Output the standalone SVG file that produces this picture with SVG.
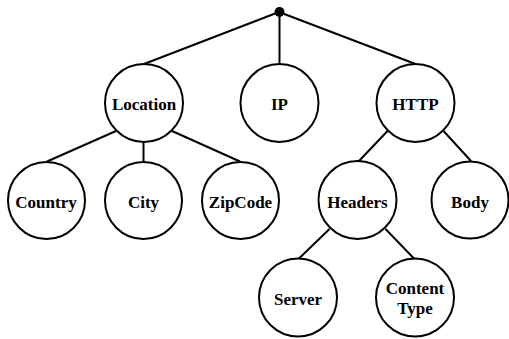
<svg xmlns="http://www.w3.org/2000/svg" width="509" height="339" viewBox="0 0 509 339">
<style>
.n circle{fill:#fff;stroke:#000;stroke-width:2}
.n text{font-family:"Liberation Serif","Times New Roman",serif;font-weight:bold;font-size:17px;text-anchor:middle;fill:#000}
.e line{stroke:#000;stroke-width:2}
</style>
<rect width="509" height="339" fill="#fff"/>
<g id="connectors" class="e">
<line x1="279" y1="12" x2="144" y2="64"/>
<line x1="279.5" y1="12" x2="279.5" y2="64"/>
<line x1="279" y1="12" x2="415.5" y2="64"/>
<line x1="116" y1="131" x2="47" y2="161.5"/>
<line x1="143.5" y1="142" x2="143.5" y2="161.5"/>
<line x1="172" y1="131" x2="240" y2="161.5"/>
<line x1="387.5" y1="131" x2="359" y2="161"/>
<line x1="443.5" y1="131" x2="471" y2="161"/>
<line x1="329.5" y1="229" x2="299" y2="258.5"/>
<line x1="385.5" y1="229" x2="414" y2="258.5"/>
</g>
<g id="root"><circle cx="279.5" cy="12" r="5" fill="#000"/></g>
<g id="location" class="n"><circle cx="144" cy="103" r="39"/><text x="144" y="110">Location</text></g>
<g id="ip" class="n"><circle cx="279.5" cy="103" r="39"/><text x="279.5" y="110">IP</text></g>
<g id="http" class="n"><circle cx="415.5" cy="103" r="39"/><text x="415.5" y="110">HTTP</text></g>
<g id="country" class="n"><circle cx="46.5" cy="200.5" r="38.5"/><text x="46" y="208">Country</text></g>
<g id="city" class="n"><circle cx="143.5" cy="200.5" r="38.5"/><text x="143.5" y="208">City</text></g>
<g id="zipcode" class="n"><circle cx="240.5" cy="200.5" r="38.5"/><text x="240.5" y="208">ZipCode</text></g>
<g id="headers" class="n"><circle cx="357.5" cy="200" r="39"/><text x="357.5" y="208">Headers</text></g>
<g id="body" class="n"><circle cx="470" cy="200" r="38.5"/><text x="470" y="208">Body</text></g>
<g id="server" class="n"><circle cx="298" cy="297.5" r="39"/><text x="298" y="305">Server</text></g>
<g id="contenttype" class="n"><circle cx="415" cy="297.5" r="39"/><text x="415" y="294">Content</text><text x="415" y="314">Type</text></g>
</svg>
